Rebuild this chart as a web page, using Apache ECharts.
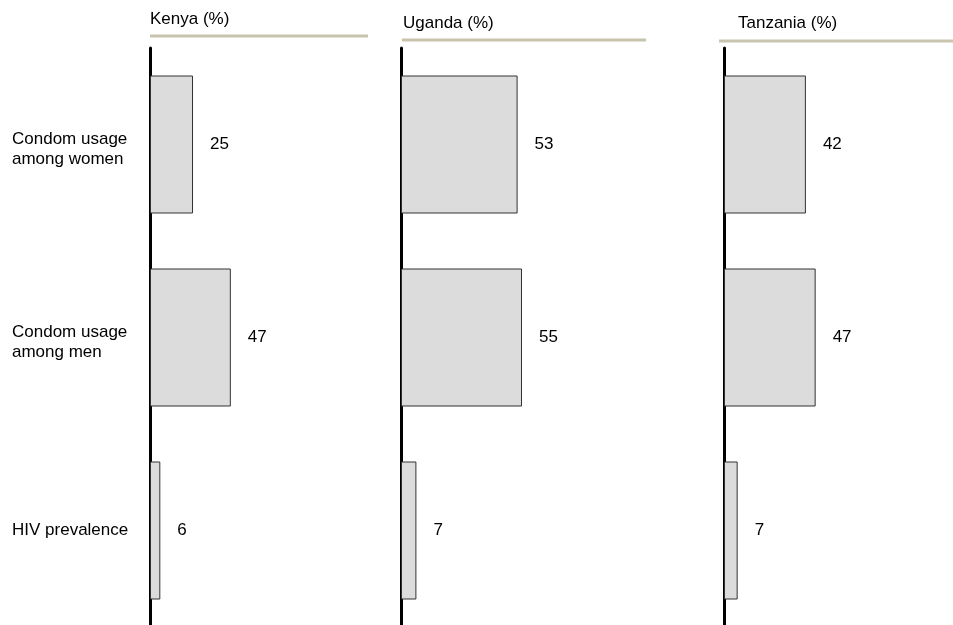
<!DOCTYPE html>
<html>
<head>
<meta charset="utf-8">
<script src="https://cdn.jsdelivr.net/npm/echarts@6/dist/echarts.min.js"></script>
<style>
html,body{margin:0;padding:0;background:#fff;}
#chart{width:953px;height:625px;}
</style>
</head>
<body>
<div id="chart"></div>
<script>
const categories = ['Condom usage\namong women', 'Condom usage\namong men', 'HIV prevalence'];
const countries = ['Kenya (%)', 'Uganda (%)', 'Tanzania (%)'];
const kenya = [25, 47, 6];
const uganda = [53, 55, 7];
const tanzania = [42, 47, 7];
const seriesData = [kenya, uganda, tanzania];

const FONT = '"Liberation Sans", Arial, sans-serif';
const axisX = [150, 401, 724];
const gridW = [172, 220, 195];
const titleX = [150, 403, 738];
const titleY = [11, 15, 15];
const ruleX = [[150, 368], [402, 646], [719, 953]];
const ruleY = [36, 40, 41];

const chart = echarts.init(document.getElementById('chart'));
const grids = [], xAxes = [], yAxes = [], series = [], titles = [], graphics = [];
for (let i = 0; i < 3; i++) {
  grids.push({left: axisX[i], top: 48, width: gridW[i], height: 579, containLabel: false, outerBoundsMode: 'none'});
  xAxes.push({type: 'value', gridIndex: i, min: 0, max: 100, show: false});
  yAxes.push({
    type: 'category', gridIndex: i, data: categories, inverse: true,
    axisLine: {show: true, lineStyle: {color: '#000', width: 3}},
    axisTick: {show: false},
    axisLabel: i === 0 ? {
      show: true, margin: 138, align: 'left', fontFamily: FONT, fontSize: 17, lineHeight: 20, color: '#000',
      formatter: v => v.indexOf('\n') >= 0 ? '{s| }\n' + v : v,
      rich: {s: {fontSize: 4, lineHeight: 10}}
    } : {show: false}
  });
  series.push({
    type: 'bar', xAxisIndex: i, yAxisIndex: i, data: seriesData[i], barWidth: 138,
    itemStyle: {color: '#dcdcdc', borderColor: '#333', borderWidth: 1},
    label: {show: true, position: 'right', distance: 17, fontFamily: FONT, fontSize: 17, color: '#000'},
    silent: true, animation: false
  });
  titles.push({text: countries[i], left: titleX[i], top: titleY[i], padding: 0,
    textStyle: {fontFamily: FONT, fontSize: 17, fontWeight: 'normal', color: '#000'}});
  graphics.push({type: 'line', shape: {x1: ruleX[i][0], y1: ruleY[i], x2: ruleX[i][1], y2: ruleY[i]},
    style: {stroke: '#c9c4ae', lineWidth: 3}});
}
chart.setOption({
  animation: false,
  title: titles,
  grid: grids,
  xAxis: xAxes,
  yAxis: yAxes,
  series: series,
  graphic: graphics
});
</script>
</body>
</html>
